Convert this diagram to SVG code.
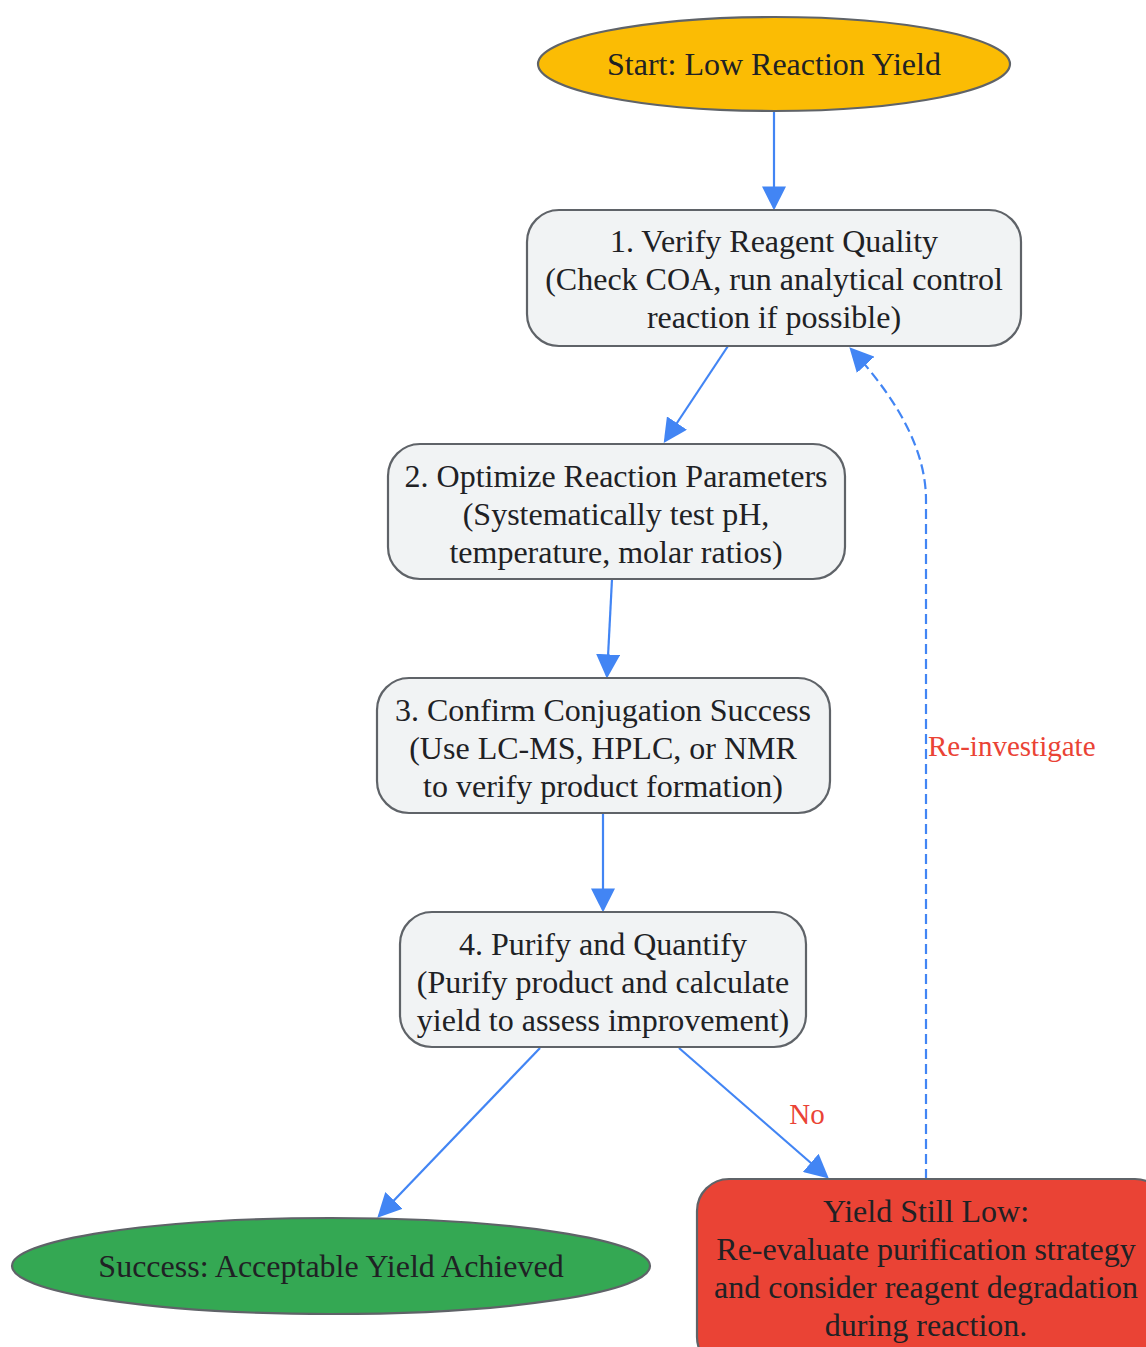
<svg xmlns="http://www.w3.org/2000/svg" width="1146" height="1347" viewBox="0 0 1146 1347">
<style>
.n{stroke:#5f6368;stroke-width:2.2}
.t{font-family:"Liberation Serif","Times New Roman",serif;font-size:32px;fill:#202124;text-anchor:middle;dominant-baseline:central}
.e{fill:none;stroke:#4285F4;stroke-width:2.2}
.d{stroke-dasharray:10,5}
.l{font-family:"Liberation Serif","Times New Roman",serif;font-size:29px;fill:#EA4335;dominant-baseline:central}
</style>
<defs>
<marker id="ah" viewBox="0 0 10 10" refX="9" refY="5" markerWidth="24" markerHeight="24" markerUnits="userSpaceOnUse" orient="auto">
<path d="M0,0 L10,5 L0,10 z" fill="#4285F4"/>
</marker>
</defs>
<rect width="1146" height="1347" fill="#ffffff"/>
<g id="connectors">
<line class="e" x1="774" y1="111" x2="774" y2="208" marker-end="url(#ah)"/>
<line class="e" x1="728" y1="346" x2="665" y2="441" marker-end="url(#ah)"/>
<line class="e" x1="612" y1="579" x2="607" y2="676" marker-end="url(#ah)"/>
<line class="e" x1="603" y1="813" x2="603" y2="910" marker-end="url(#ah)"/>
<line class="e" x1="540" y1="1048" x2="379" y2="1216" marker-end="url(#ah)"/>
<line class="e" x1="679" y1="1048" x2="827" y2="1177" marker-end="url(#ah)"/>
<path class="e d" d="M926,1179 L926,500 Q926,430 851,349" marker-end="url(#ah)"/>
<text class="l" x="807" y="1114" text-anchor="middle">No</text>
<text class="l" x="928" y="746">Re-investigate</text>
</g>
<g id="start">
<ellipse class="n" cx="774" cy="64" rx="236" ry="47" fill="#FBBC04"/>
<text class="t" x="774" y="64">Start: Low Reaction Yield</text>
</g>
<g id="step1">
<rect class="n" x="527" y="210" width="494" height="136" rx="32" fill="#F1F3F4"/>
<text class="t" x="774" y="241">1. Verify Reagent Quality</text>
<text class="t" x="774" y="279">(Check COA, run analytical control</text>
<text class="t" x="774" y="317">reaction if possible)</text>
</g>
<g id="step2">
<rect class="n" x="388" y="444" width="457" height="135" rx="32" fill="#F1F3F4"/>
<text class="t" x="616" y="476">2. Optimize Reaction Parameters</text>
<text class="t" x="616" y="514">(Systematically test pH,</text>
<text class="t" x="616" y="552">temperature, molar ratios)</text>
</g>
<g id="step3">
<rect class="n" x="377" y="678" width="453" height="135" rx="32" fill="#F1F3F4"/>
<text class="t" x="603" y="710">3. Confirm Conjugation Success</text>
<text class="t" x="603" y="748">(Use LC-MS, HPLC, or NMR</text>
<text class="t" x="603" y="786">to verify product formation)</text>
</g>
<g id="step4">
<rect class="n" x="400" y="912" width="406" height="135" rx="32" fill="#F1F3F4"/>
<text class="t" x="603" y="944">4. Purify and Quantify</text>
<text class="t" x="603" y="982">(Purify product and calculate</text>
<text class="t" x="603" y="1020">yield to assess improvement)</text>
</g>
<g id="success">
<ellipse class="n" cx="331" cy="1266" rx="319" ry="48" fill="#34A853"/>
<text class="t" x="331" y="1266">Success: Acceptable Yield Achieved</text>
</g>
<g id="stilllow">
<rect class="n" x="697" y="1179" width="470" height="190" rx="32" fill="#EA4335"/>
<text class="t" x="926" y="1211">Yield Still Low:</text>
<text class="t" x="926" y="1249">Re-evaluate purification strategy</text>
<text class="t" x="926" y="1287">and consider reagent degradation</text>
<text class="t" x="926" y="1325">during reaction.</text>
</g>
</svg>
